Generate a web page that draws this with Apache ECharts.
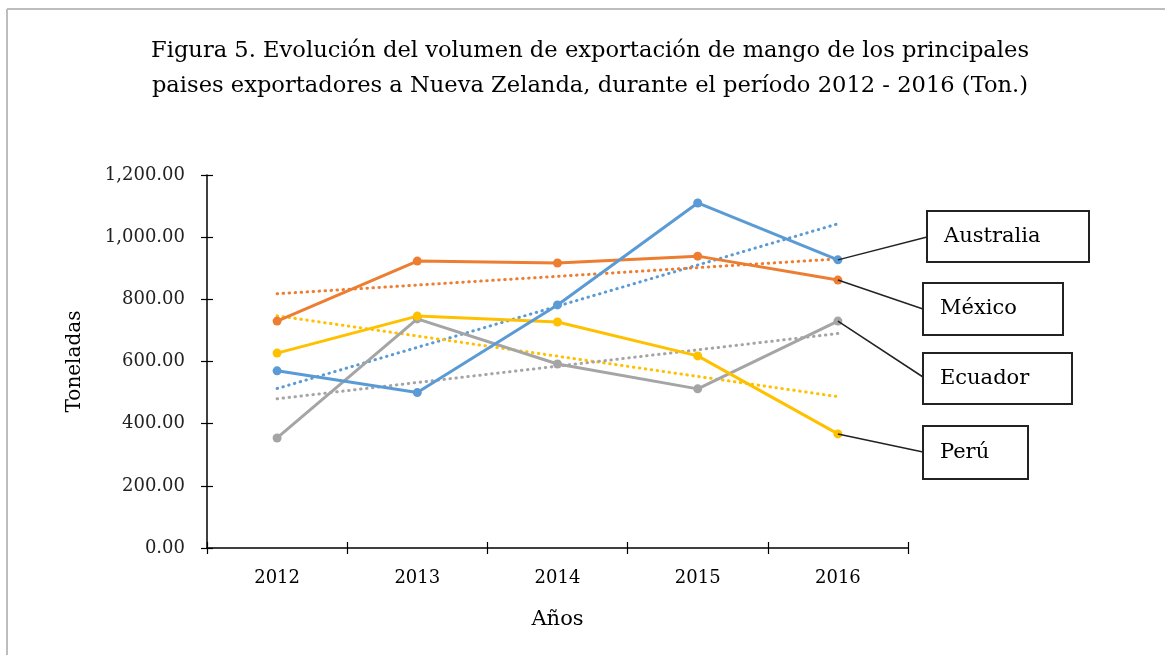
<!DOCTYPE html>
<html>
<head>
<meta charset="utf-8">
<script src="https://cdn.jsdelivr.net/npm/echarts@6/dist/echarts.min.js"></script>
<style>
html,body{margin:0;padding:0;background:#fff;}
#chart{width:1165px;height:670px;}
</style>
</head>
<body>
<div id="chart"></div>
<script>
// ---- Data ----
const years = ['2012', '2013', '2014', '2015', '2016'];
const seriesNames = ['Australia', 'México', 'Perú', 'Ecuador'];
const australia = [570, 500, 782, 1110, 927];
const mexico = [730, 923, 917, 939, 862];
const peru = [627, 746, 727, 618, 367];
const ecuador = [354, 737, 592, 512, 730];
// linear trendline end values (2012, 2016)
const australiaTrend = [513, 1043];
const mexicoTrend = [818, 930];
const peruTrend = [747, 487];
const ecuadorTrend = [480, 690];
const yTicks = [0, 200, 400, 600, 800, 1000, 1200];

const FONT = '"DejaVu Serif", "Liberation Serif", serif';
const colors = {Australia: '#5B9BD5', 'México': '#ED7D31', 'Perú': '#FFC000', Ecuador: '#A5A5A5'};
const values = {Australia: australia, 'México': mexico, 'Perú': peru, Ecuador: ecuador};
const trends = {Australia: australiaTrend, 'México': mexicoTrend, 'Perú': peruTrend, Ecuador: ecuadorTrend};

function trendData(t) {
  const d = years.map(() => null);
  d[0] = t[0];
  d[years.length - 1] = t[1];
  return d;
}

const chart = echarts.init(document.getElementById('chart'), null, {renderer: 'canvas'});

const series = [];
['Australia', 'México', 'Perú', 'Ecuador'].forEach(n => {
  series.push({
    name: n + ' trend', type: 'line', data: trendData(trends[n]), connectNulls: true,
    symbol: 'none', silent: true, z: 1,
    lineStyle: {color: colors[n], width: 3, type: [0.5, 5.5], cap: 'round'}
  });
});
['Ecuador', 'Perú', 'México', 'Australia'].forEach(n => {
  series.push({
    name: n, type: 'line', data: values[n], symbol: 'circle', symbolSize: 9,
    z: 3, itemStyle: {color: colors[n]}, lineStyle: {color: colors[n], width: 3}
  });
});

const xAxisMain = {
  type: 'category', data: years, boundaryGap: true,
  name: 'Años', nameLocation: 'middle', nameGap: 61,
  nameTextStyle: {fontFamily: FONT, fontSize: 21, color: '#000'},
  axisLine: {lineStyle: {color: '#000', width: 1.5}},
  axisTick: {show: true, length: 6, inside: false, lineStyle: {color: '#000', width: 1.2}},
  axisLabel: {fontFamily: FONT, fontSize: 18, color: '#000', margin: 21},
  splitLine: {show: false}
};
const xAxisInner = {
  type: 'category', data: years, position: 'bottom', boundaryGap: true,
  axisLine: {show: false}, axisLabel: {show: false}, splitLine: {show: false},
  axisTick: {show: true, inside: true, length: 6, lineStyle: {color: '#000', width: 1.2}}
};

const option = {
  backgroundColor: '#fff',
  animation: false,
  title: {
    text: 'Figura 5. Evolución del volumen de exportación de mango de los principales\npaises exportadores a Nueva Zelanda, durante el período 2012 - 2016 (Ton.)',
    left: 585, top: 29, textAlign: 'center',
    textStyle: {fontFamily: FONT, fontSize: 22.6, fontWeight: 'normal', color: '#000', lineHeight: 35}
  },
  grid: {left: 207, right: 257, top: 175, bottom: 122},
  xAxis: [xAxisMain, xAxisInner],
  yAxis: [{
    type: 'value', min: 0, max: 1200, interval: 200,
    name: 'Toneladas', nameLocation: 'middle', nameGap: 122, nameRotate: 90,
    nameTextStyle: {fontFamily: FONT, fontSize: 20, color: '#000'},
    axisLine: {show: true, lineStyle: {color: '#000', width: 1.5}},
    axisTick: {show: true, length: 6, lineStyle: {color: '#000', width: 1.2}},
    axisLabel: {fontFamily: FONT, fontSize: 18, color: '#222', margin: 22,
      formatter: v => v.toLocaleString('en-US', {minimumFractionDigits: 2, maximumFractionDigits: 2})},
    splitLine: {show: false}
  }, {
    type: 'value', min: 0, max: 1200, interval: 200, position: 'left',
    axisLine: {show: false}, axisLabel: {show: false}, splitLine: {show: false},
    axisTick: {show: true, inside: true, length: 6, lineStyle: {color: '#000', width: 1.2}}
  }],
  series: series
};
chart.setOption(option);

// ---- callout boxes ----
const boxes = [
  {name: 'Australia', x: 927, y: 211, w: 162, h: 51, ly: 237},
  {name: 'México', x: 923, y: 283, w: 140, h: 52, ly: 309},
  {name: 'Ecuador', x: 923, y: 353, w: 149, h: 51, ly: 377},
  {name: 'Perú', x: 923, y: 426, w: 105, h: 53, ly: 452}
];
const graphics = [];
graphics.push({type: 'line', shape: {x1: 7, y1: 9, x2: 1165, y2: 9}, style: {stroke: '#bdbdbd', lineWidth: 2}, silent: true});
graphics.push({type: 'line', shape: {x1: 7, y1: 9, x2: 7, y2: 655}, style: {stroke: '#bdbdbd', lineWidth: 2}, silent: true});
boxes.forEach(b => {
  const vals = values[b.name];
  const p = chart.convertToPixel({gridIndex: 0}, [years.length - 1, vals[vals.length - 1]]);
  graphics.push({type: 'line', z: 10, shape: {x1: p[0], y1: p[1], x2: b.x, y2: b.ly},
    style: {stroke: '#222', lineWidth: 1.5}, silent: true});
  graphics.push({type: 'rect', z: 10, shape: {x: b.x, y: b.y, width: b.w, height: b.h},
    style: {fill: '#fff', stroke: '#222', lineWidth: 2}, silent: true});
  graphics.push({type: 'text', z: 11, x: b.x + 17, y: b.y + b.h / 2,
    style: {text: b.name, font: '21px ' + FONT, fill: '#000', verticalAlign: 'middle'}, silent: true});
});
chart.setOption({graphic: graphics});
</script>
</body>
</html>
